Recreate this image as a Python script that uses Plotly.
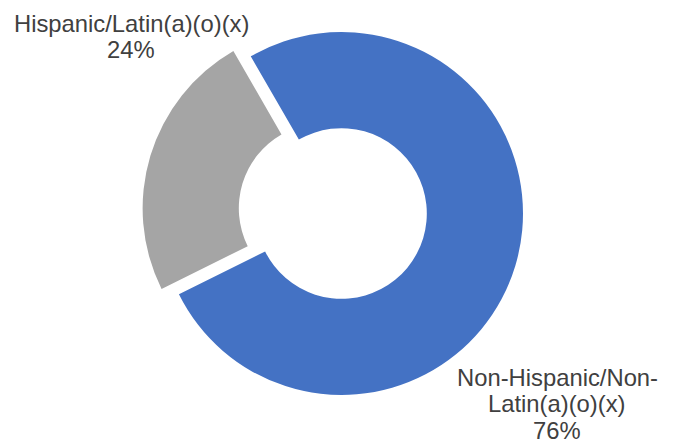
import plotly.graph_objects as go

# Data
labels = ["Non-Hispanic/Non-Latin(a)(o)(x)", "Hispanic/Latin(a)(o)(x)"]
values = [76, 24]
colors = ["#4472C4", "#A5A5A5"]
pulls = [0, 0.1]
label_lines = [["Non-Hispanic/Non-", "Latin(a)(o)(x)"], ["Hispanic/Latin(a)(o)(x)"]]

W, H = 676, 444
OFF = 8  # page body offset

def px(x):
    return (x - OFF) / W

def py(y):
    return 1 - (y - OFF) / H

R = 181.5 * 1.1
CX, CY = 341.5, 213.5

fig = go.Figure(go.Pie(
    labels=labels,
    values=values,
    hole=0.47,
    sort=False,
    direction="clockwise",
    rotation=-30,
    pull=pulls,
    marker=dict(colors=colors, line=dict(width=0)),
    textinfo="none",
    hoverinfo="label+percent",
    domain=dict(x=[px(CX - R), px(CX + R)], y=[py(CY + R), py(CY - R)]),
))

font = dict(family="Arial, 'Liberation Sans', sans-serif", size=23.8, color="#404040")

total = sum(values)
placements = [
    (557, [377.0, 403.8, 430.6]),
    (131, [23.7, 49.3]),
]
annotations = []
for i, (cx, ys) in enumerate(placements):
    lines = label_lines[i] + [f"{round(values[i] / total * 100)}%"]
    for line, y in zip(lines, ys):
        annotations.append(dict(
            text=line, x=px(cx), y=py(y), xref="paper", yref="paper",
            xanchor="center", yanchor="middle", showarrow=False, font=font,
            borderpad=0,
        ))

fig.update_layout(
    width=W, height=H,
    margin=dict(l=0, r=0, t=0, b=0),
    paper_bgcolor="white", plot_bgcolor="white",
    showlegend=False,
    annotations=annotations,
)

fig.write_html("out.html")
